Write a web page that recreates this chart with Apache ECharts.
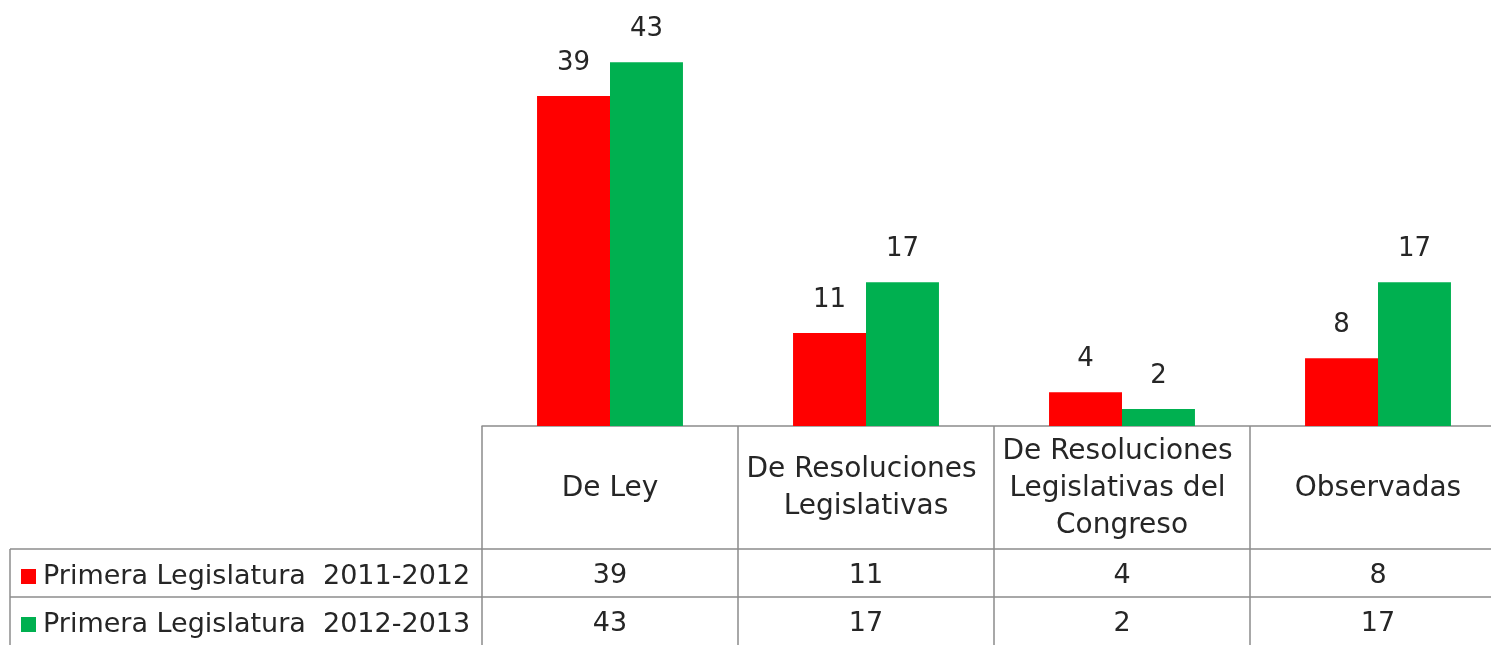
<!DOCTYPE html>
<html>
<head>
<meta charset="utf-8">
<script src="https://cdn.jsdelivr.net/npm/echarts@6/dist/echarts.min.js"></script>
<style>
  html, body { margin: 0; padding: 0; background: #fff; }
  #chart { width: 1491px; height: 645px; }
</style>
</head>
<body>
<div id="chart"></div>
<script>
// categories and series
const categories = ['De Ley', 'De Resoluciones Legislativas', 'De Resoluciones Legislativas del Congreso', 'Observadas']
const seriesNames = ['Primera Legislatura  2011-2012', 'Primera Legislatura  2012-2013']
const values2011 = [39, 11, 4, 8]
const values2012 = [43, 17, 2, 17]

const FONT = 'DejaVu Sans'
const LINE = '#8c8c8c'
const TEXT = '#262626'

const chart = echarts.init(document.getElementById('chart'))

const gridLeft = 482
const gridTop = 3
const gridHeight = 423
const base = gridTop + gridHeight   // 426
const headerH = 123
const rowH = 48

// one extra x axis per table row, sharing the category scale
function rowAxis (values, offset) {
  return {
    type: 'category',
    data: categories,
    position: 'bottom',
    offset: offset,
    axisLine: { show: true, lineStyle: { color: LINE, width: 1.5 } },
    axisTick: { show: false },
    axisLabel: {
      margin: 27,
      verticalAlign: 'middle',
      fontFamily: FONT,
      fontSize: 27,
      color: TEXT,
      formatter: (v, i) => String(values[i])
    }
  }
}

function rowLegend (name, top) {
  return {
    data: [name],
    left: 16, top: top,
    icon: 'rect', itemWidth: 15, itemHeight: 15, itemGap: 0,
    textStyle: { fontFamily: FONT, fontSize: 27, color: TEXT, padding: [0, 0, 0, 2] }
  }
}

const option = {
  animation: false,
  backgroundColor: '#fff',
  grid: { left: gridLeft, top: gridTop, right: -15, height: gridHeight, outerBoundsMode: 'none' },
  legend: [
    rowLegend(seriesNames[0], base + headerH + 9),
    rowLegend(seriesNames[1], base + headerH + rowH + 9)
  ],
  xAxis: [
    {
      type: 'category',
      data: categories,
      axisLine: { show: true, lineStyle: { color: LINE, width: 1.5 } },
      axisTick: { show: true, length: headerH + 2 * rowH, lineStyle: { color: LINE, width: 1.5 } },
      axisLabel: {
        margin: headerH / 2 + 1,
        verticalAlign: 'middle',
        align: 'center',
        width: 250,
        overflow: 'break',
        lineHeight: 37,
        fontFamily: FONT,
        fontSize: 28,
        color: TEXT,
        interval: 0
      }
    },
    rowAxis(values2011, headerH),
    rowAxis(values2012, headerH + rowH)
  ],
  yAxis: {
    type: 'value', min: 0, max: 50, show: false,
    splitLine: { show: false }
  },
  series: [
    {
      name: seriesNames[0], type: 'bar', data: values2011,
      barGap: '0%', barCategoryGap: '43%',
      itemStyle: { color: '#ff0000' },
      label: { show: true, position: 'top', distance: 20, fontFamily: FONT, fontSize: 26, color: TEXT }
    },
    {
      name: seriesNames[1], type: 'bar', data: values2012,
      itemStyle: { color: '#00b050' },
      label: { show: true, position: 'top', distance: 20, fontFamily: FONT, fontSize: 26, color: TEXT }
    }
  ],
  graphic: [
    // left part of the data table (row-label column)
    { type: 'line', shape: { x1: 10, y1: base + headerH, x2: gridLeft, y2: base + headerH }, style: { stroke: LINE, lineWidth: 1.5 } },
    { type: 'line', shape: { x1: 10, y1: base + headerH + rowH, x2: gridLeft, y2: base + headerH + rowH }, style: { stroke: LINE, lineWidth: 1.5 } },
    { type: 'line', shape: { x1: 10, y1: base + headerH, x2: 10, y2: base + headerH + 2 * rowH }, style: { stroke: LINE, lineWidth: 1.5 } }
  ]
}

chart.setOption(option)
</script>
</body>
</html>
